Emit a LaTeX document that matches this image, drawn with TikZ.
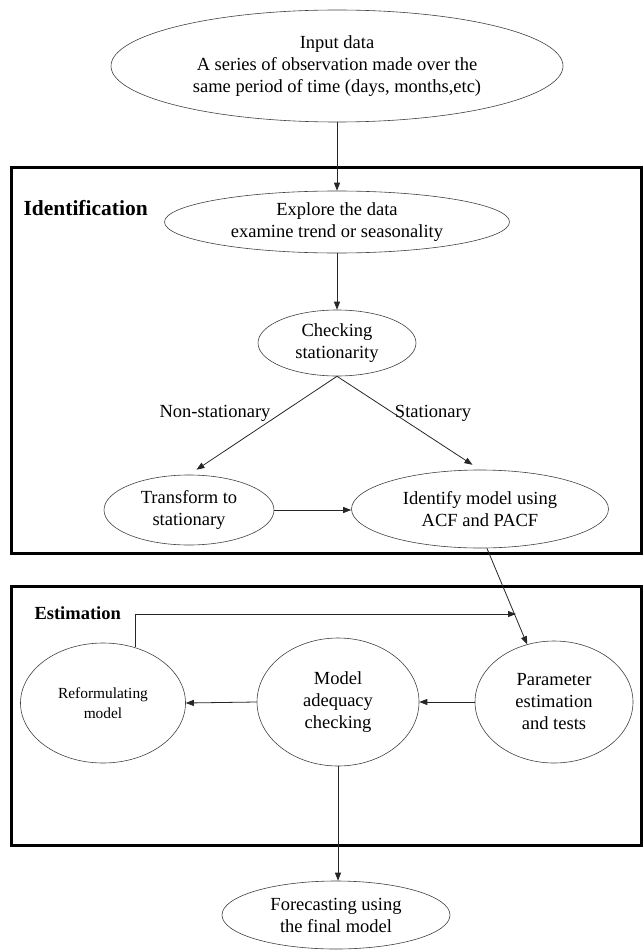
\documentclass[tikz,border=0pt]{standalone}
\usepackage{fontspec}
\setmainfont{Liberation Serif}
\usetikzlibrary{shapes.geometric,arrows.meta}
\begin{document}
\begin{tikzpicture}[x=1pt,y=-1pt,
  ell/.style={ellipse,draw=black!75,line width=0.6pt,inner sep=0pt,align=center,font=\fontsize{18.5}{22}\selectfont},
  arr/.style={-{Triangle[length=8pt,width=6pt]},line width=0.8pt,draw=black!85},
  frame/.style={draw=black,line width=3pt},
  lbl/.style={font=\fontsize{18.5}{22}\selectfont},
  head/.style={font=\fontsize{21.5}{24}\selectfont\bfseries,anchor=west}]
\useasboundingbox (0,0) rectangle (643,952);
\draw[frame] (11,168) rectangle (641,553);
\draw[frame] (11,586) rectangle (641,845);
\node[head] (idlab) at (20,208) {Identification};
\node[head,font=\fontsize{18.5}{22}\selectfont\bfseries] (estlab) at (31,613) {Estimation};

\node[ell,minimum width=452pt,minimum height=112pt] (input) at (337,66) {Input data\\A series of observation made over the\\same period of time (days, months,etc)};
\node[ell,minimum width=345pt,minimum height=62pt] (explore) at (337,222) {Explore the data\\examine trend or seasonality};
\node[ell,minimum width=158pt,minimum height=66pt] (check) at (337,343) {Checking\\stationarity};
\node[ell,minimum width=170pt,minimum height=70pt] (trans) at (189,510) {Transform to\\stationary};
\node[ell,minimum width=257pt,minimum height=78pt] (ident) at (480,509) {Identify model using\\ACF and PACF};

\node[ell,minimum width=165pt,minimum height=120pt,font=\fontsize{15.4}{20}\selectfont] (reform) at (103,703) {Reformulating\\model};
\node[ell,minimum width=162pt,minimum height=128pt] (model) at (338,702) {Model\\adequacy\\checking};
\node[ell,minimum width=158pt,minimum height=122pt] (param) at (554,702) {Parameter\\estimation\\and tests};
\node[ell,minimum width=228pt,minimum height=68pt] (fore) at (336,915) {Forecasting using\\the final model};

\node[lbl] (nslab) at (215,413) {Non-stationary};
\node[lbl] (slab) at (433,413) {Stationary};

\draw[arr] (input.south) -- (explore.north);
\draw[arr] (explore.south) -- (check.north);
\draw[arr,shorten >=9pt] (check.south) -- (trans.north);
\draw[arr,shorten >=9pt] (check.south) -- (ident.north);
\draw[arr] (trans.east) -- (trans.east -| ident.west);
\draw[arr] (ident.-80) -- (param.115);
\draw[arr] (param.west) -- (model.east);
\draw[arr] (model.west) -- (reform.east);
\coordinate (reftip) at (516,614);
\draw[arr] (reform.60) |- (reftip);
\draw[arr] (model.south) -- (fore.north -| model.south);
\end{tikzpicture}
\end{document}
